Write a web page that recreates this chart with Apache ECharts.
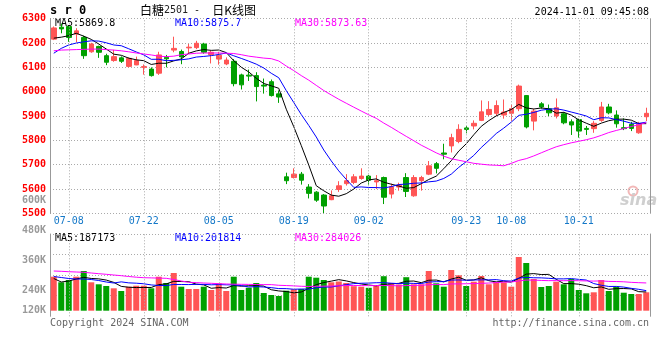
<!DOCTYPE html>
<html><head><meta charset="utf-8">
<script src="https://cdn.jsdelivr.net/npm/echarts@6/dist/echarts.min.js"></script>
<style>html,body{margin:0;padding:0;background:#fff}#c{width:660px;height:360px}</style>
</head><body><div id="c"></div>
<script>
const dates = ['07-04','07-05','07-08','07-09','07-10','07-11','07-12','07-15','07-16','07-17','07-18','07-19','07-22','07-23','07-24','07-25','07-26','07-29','07-30','07-31',
'08-01','08-02','08-05','08-06','08-07','08-08','08-09','08-12','08-13','08-14','08-15','08-16','08-19','08-20','08-21','08-22','08-23','08-26','08-27','08-28','08-29','08-30',
'09-02','09-03','09-04','09-05','09-06','09-09','09-10','09-11','09-12','09-13','09-18','09-19','09-20','09-23','09-24','09-25','09-26','09-27','09-30',
'10-08','10-09','10-10','10-11','10-14','10-15','10-16','10-17','10-18','10-21','10-22','10-23','10-24','10-25','10-28','10-29','10-30','10-31','11-01'];
const opens = [6216,6265,6268,6237,6223,6164,6186,6148,6128,6139,6104,6110,6100,6093,6076,6141,6171,6165,6180,6181,
6196,6152,6134,6114,6125,6069,6068,6066,6027,6041,5991,5650,5647,5661,5608,5587,5575,5556,5598,5622,
5627,5643,5653,5629,5647,5579,5608,5647,5572,5634,5661,5704,5748,5777,5795,5851,5859,5882,5906,5911,
5904,5911,5930,5984,5879,5950,5930,5900,5909,5876,5885,5849,5848,5882,5937,5904,5852,5866,5831,5897];
const closes = [6262,6258,6223,6250,6148,6196,6162,6121,6144,6125,6137,6128,6103,6066,6151,6135,6178,6143,6183,6199,
6162,6162,6150,6130,6033,6028,6064,6021,6023,5984,5978,5634,5661,5636,5582,5554,5530,5572,5613,5634,
5650,5653,5636,5634,5566,5609,5616,5590,5647,5647,5695,5685,5743,5811,5845,5845,5870,5917,5927,5943,
5916,5930,6023,5855,5920,5937,5913,5934,5872,5863,5838,5845,5870,5937,5913,5868,5848,5849,5866,5911];
const lows = [6212,6240,6205,6203,6135,6160,6139,6109,6123,6118,6100,6109,6070,6062,6069,6100,6162,6113,6156,6175,
6156,6116,6111,6109,6022,6009,6044,5960,5992,5980,5954,5620,5643,5618,5561,5547,5501,5554,5588,5614,
5620,5638,5618,5600,5538,5561,5593,5567,5568,5593,5657,5664,5722,5750,5788,5829,5845,5879,5900,5900,
5889,5879,5920,5849,5841,5930,5900,5890,5866,5822,5811,5822,5831,5876,5907,5852,5842,5838,5827,5879];
const highs = [6268,6280,6270,6261,6230,6201,6189,6156,6172,6145,6141,6144,6112,6100,6164,6151,6226,6173,6196,6209,
6201,6168,6164,6141,6134,6074,6091,6080,6054,6050,6005,5667,5685,5670,5620,5591,5579,5594,5632,5661,
5661,5685,5658,5657,5651,5622,5626,5665,5657,5654,5715,5711,5786,5827,5866,5859,5882,5964,5961,5964,
5968,5947,6029,5986,5930,5957,5947,5972,5916,5886,5889,5859,5879,5958,5950,5923,5890,5876,5876,5934];
const volumes = [340000,284000,307000,340000,397000,284000,264000,247000,224000,197000,240000,250000,250000,224000,340000,277000,377000,240000,217000,217000,
240000,207000,274000,197000,340000,207000,230000,277000,177000,157000,147000,200000,214000,217000,340000,330000,307000,284000,292000,277000,
245000,240000,229000,254000,345000,277000,262000,335000,264000,264000,397000,274000,240000,407000,354000,247000,290000,347000,264000,290000,
284000,240000,537000,477000,317000,237000,247000,290000,264000,317000,207000,174000,184000,307000,197000,240000,180000,167000,167000,184000];
const priceMa5Lead = [6220,6224,6230,6240];
const priceMa10Lead = [6158,6178,6192,6200,6205,6209,6208,6201,6192];
const priceMa30Lead = [6168,6171,6172,6173,6174,6175,6175,6173,6171,6168,6164,6159,6155,6151,6146,6144,6146,6152,6155,6158,6159,6159,6159,6158,6157,6152,6146,6142,6138];
const volMa5Lead = [322000,287000,297000,317000];
const volMa10Lead = [342000,332000,322000,317000,317000,312000,302000,287000,277000];
const volMa30Lead = [397000,394000,390000,387000,384000,377000,370000,364000,357000,350000,342000,335000,330000,328000,326000,324000,312000,297000,284000,281000,277000,274000,270000,267000,265000,264000,263000,262000,261000];
const labeledDates = ['07-08','07-22','08-05','08-19','09-02','09-23','10-08','10-21'];
const priceMaLabels = ['MA5:5869.8','MA10:5875.7','MA30:5873.63'];
const volMaLabels = ['MA5:187173','MA10:201814','MA30:284026'];
const volTickLabels = ['480K','360K','240K','120K'];
const titleParts = ['s r 0','白糖','2501 -  ','日K线图','2024-11-01 09:45:08'];
const footerTexts = ['Copyright 2024 SINA.COM','http://finance.sina.com.cn'];

const RED = '#ff5555', GREEN = '#00a000';
const MONO = '"DejaVu Sans Mono","Liberation Mono",monospace';
const MA_COLORS = ['#000000','#0000ff','#ff00ff'];
const GRIDC = '#aaaaaa';

function movingAvg(src, n, lead) {
  return src.map((_, i) => {
    if (i < n - 1) return lead[i];
    let s = 0; for (let k = i - n + 1; k <= i; k++) s += src[k];
    return Math.round(s / n * 100) / 100;
  });
}
const priceMAs = [movingAvg(closes,5,priceMa5Lead), movingAvg(closes,10,priceMa10Lead), movingAvg(closes,30,priceMa30Lead)];
const volMAs = [movingAvg(volumes,5,volMa5Lead), movingAvg(volumes,10,volMa10Lead), movingAvg(volumes,30,volMa30Lead)];
const kData = dates.map((_, i) => [opens[i], closes[i], lows[i], highs[i]]);

const vLines = {
  silent: true, symbol: ['none','none'], label: {show:false}, animation:false,
  lineStyle: {color: GRIDC, type: [1,2], width: 1},
  emphasis: {disabled: true},
  data: labeledDates.map(d => ({xAxis: d}))
};

const chart = echarts.init(document.getElementById('c'), null, {renderer:'canvas'});
const txt = (x, y, text, fill, font, align) => ({type:'text', x, y, silent:true, style:{text, fill, font, align: align||'left', verticalAlign:'middle'}});

const graphics = [
  txt(50, 11, titleParts[0], '#000', 'bold 12px ' + MONO),
  {type:'text', x:140, y:10, silent:true, style:{
    text: '{a|' + titleParts[1] + '}{b|' + titleParts[2] + '}{a|' + titleParts[3] + '}',
    verticalAlign:'middle', align:'left',
    rich:{a:{font:'12px "Noto Sans CJK SC"', fill:'#000'}, b:{font:'10px ' + MONO, fill:'#222'}}}},
  txt(649, 12, titleParts[4], '#000', '10px ' + MONO, 'right'),
  txt(55, 23.5, priceMaLabels[0], MA_COLORS[0], '10px ' + MONO),
  txt(175, 23.5, priceMaLabels[1], MA_COLORS[1], '10px ' + MONO),
  txt(295, 23.5, priceMaLabels[2], MA_COLORS[2], '10px ' + MONO),
  txt(55, 238.5, volMaLabels[0], MA_COLORS[0], '10px ' + MONO),
  txt(175, 238.5, volMaLabels[1], MA_COLORS[1], '10px ' + MONO),
  txt(295, 238.5, volMaLabels[2], MA_COLORS[2], '10px ' + MONO),
  txt(46, 200, '600K', '#999', 'bold 10px ' + MONO, 'right'),
  txt(46, 230, volTickLabels[0], '#999', 'bold 10px ' + MONO, 'right'),
  txt(46, 260.7, volTickLabels[1], '#999', 'bold 10px ' + MONO, 'right'),
  txt(46, 290.3, volTickLabels[2], '#999', 'bold 10px ' + MONO, 'right'),
  txt(46, 310.3, volTickLabels[3], '#999', 'bold 10px ' + MONO, 'right'),
  txt(50, 323.5, footerTexts[0], '#666', '10px ' + MONO),
  txt(649, 323.5, footerTexts[1], '#666', '10px ' + MONO, 'right'),
  {type:'circle', silent:true, shape:{cx:633, cy:191, r:4.5}, style:{fill:'none', stroke:'#f2b8b8', lineWidth:2}},
  txt(620, 201, 'sina', '#cfcfcf', 'italic bold 16px "DejaVu Sans"')
];

const option = {
  animation: false,
  backgroundColor: '#fff',
  grid: [
    {left: 50, width: 600, top: 18.7, height: 194.6},
    {left: 50, width: 600, top: 234, height: 82.3}
  ],
  xAxis: [
    {type:'category', gridIndex:0, data:dates, boundaryGap:true,
     axisLine:{show:false}, axisTick:{show:false}, splitLine:{show:false},
     axisLabel:{interval:(i, v) => labeledDates.includes(v), color:'#1478c8', fontSize:10, fontFamily:MONO, margin:3}},
    {type:'category', gridIndex:1, data:dates, boundaryGap:true,
     axisLine:{show:false}, axisTick:{show:false}, splitLine:{show:false}, axisLabel:{show:false}}
  ],
  yAxis: [
    {type:'value', gridIndex:0, min:5500, max:6300, interval:100, position:'left',
     axisLine:{show:true, lineStyle:{color:'#999'}}, axisTick:{show:false},
     axisLabel:{color:'#ff0000', fontSize:10, fontWeight:'bold', fontFamily:MONO, margin:4, formatter: v => String(v)},
     splitLine:{show:true, lineStyle:{color:GRIDC, type:[1,2]}}},
    {type:'value', gridIndex:0, min:5500, max:6300, interval:100, position:'right',
     axisLine:{show:true, lineStyle:{color:'#999'}}, axisTick:{show:false}, axisLabel:{show:false}, splitLine:{show:false}},
    {type:'value', gridIndex:1, min:-56000, max:767000, position:'left',
     axisLine:{show:true, lineStyle:{color:'#999'}}, axisTick:{show:false}, axisLabel:{show:false}, splitLine:{show:false}},
    {type:'value', gridIndex:1, min:0, max:4, interval:1, position:'right',
     axisLine:{show:true, lineStyle:{color:'#999'}}, axisTick:{show:false}, axisLabel:{show:false},
     splitLine:{show:true, showMinLine:false, lineStyle:{color:GRIDC, type:[1,2]}}}
  ],
  series: [
    {type:'candlestick', xAxisIndex:0, yAxisIndex:0, data:kData, barWidth:5,
     itemStyle:{color:RED, color0:GREEN, borderColor:RED, borderColor0:GREEN, borderWidth:1},
     emphasis:{disabled:true}, markLine: vLines},
    ...priceMAs.map((d, k) => ({type:'line', xAxisIndex:0, yAxisIndex:0, data:d, showSymbol:false, symbol:'none',
      lineStyle:{color:MA_COLORS[k], width:1}, emphasis:{disabled:true}})),
    {type:'bar', xAxisIndex:1, yAxisIndex:2, data:volumes, barWidth:6,
     itemStyle:{color: p => closes[p.dataIndex] >= opens[p.dataIndex] ? RED : GREEN},
     emphasis:{disabled:true}, markLine: vLines},
    ...volMAs.map((d, k) => ({type:'line', xAxisIndex:1, yAxisIndex:2, data:d, showSymbol:false, symbol:'none',
      lineStyle:{color:MA_COLORS[k], width:1}, emphasis:{disabled:true}}))
  ],
  graphic: graphics
};
chart.setOption(option);
</script>
</body></html>
